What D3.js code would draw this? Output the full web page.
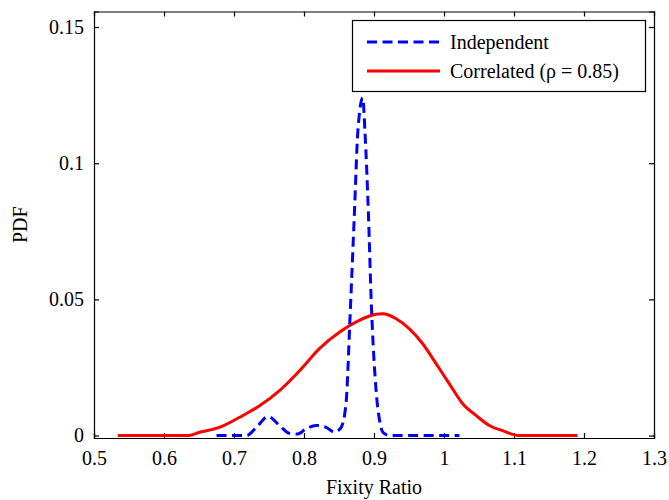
<!DOCTYPE html>
<html>
<head>
<meta charset="utf-8">
<script src="https://cdn.jsdelivr.net/npm/d3@7"></script>
<style>
  body { margin: 0; background: #fff; }
  text { font-family: "Liberation Serif", "Times New Roman", serif; }
</style>
</head>
<body>
<div id="chart"></div>
<script>
// values
const xTicks = [0.5, 0.6, 0.7, 0.8, 0.9, 1, 1.1, 1.2, 1.3]
const yTicks = [0, 0.05, 0.1, 0.15]

const indepX = [0.675, 0.70, 0.718, 0.732, 0.7486, 0.765, 0.7795, 0.791, 0.803, 0.8175, 0.8317, 0.8437, 0.853, 0.860, 0.866, 0.872, 0.877, 0.884, 0.887, 0.892, 0.896, 0.903, 0.908, 0.9126, 0.922, 0.95, 1.0, 1.022]
const indepY = [0, 0, 0, 0.003, 0.007, 0.0037, 0.0008, 0.0006, 0.0025, 0.0037, 0.003, 0.0012, 0.003, 0.0117, 0.0449, 0.0816, 0.112, 0.124, 0.112, 0.0816, 0.0496, 0.0165, 0.0055, 0.0012, 0, 0, 0, 0]

const corrX = [0.534, 0.60, 0.635, 0.651, 0.680, 0.708, 0.737, 0.765, 0.794, 0.822, 0.851, 0.879, 0.903, 0.9126, 0.9316, 0.9506, 0.9696, 0.9887, 1.0077, 1.0267, 1.0457, 1.0647, 1.0837, 1.107, 1.15, 1.1906]
const corrY = [0, 0, 0, 0.0012, 0.0031, 0.0067, 0.011, 0.0165, 0.0239, 0.0319, 0.038, 0.0423, 0.0445, 0.0447, 0.0429, 0.0392, 0.0337, 0.0264, 0.019, 0.0117, 0.0074, 0.0037, 0.0018, 0, 0, 0]

const w = 669
const h = 500
const m = { left: 94, right: 654, top: 11.5, bottom: 438 }
const serif = "'Liberation Serif', 'Times New Roman', serif"

const x = d3.scaleLinear().domain([0.5, 1.3]).range([m.left, m.right])
const y = d3.scaleLinear().domain([-0.0009, 0.1557]).range([m.bottom, m.top])

const svg = d3.select("#chart")
    .append("svg")
    .attr("width", w)
    .attr("height", h)
    .attr("font-family", serif)

// axes, ticks pointing inward on all four sides
const fmt = d => d3.format("~g")(d)

const gBottom = svg.append("g")
    .attr("transform", `translate(0,${m.bottom})`)
    .call(d3.axisBottom(x).tickValues(xTicks).tickSize(-5).tickPadding(9).tickFormat(fmt))
const gTop = svg.append("g")
    .attr("transform", `translate(0,${m.top})`)
    .call(d3.axisTop(x).tickValues(xTicks).tickSize(-5).tickFormat(""))
const gLeft = svg.append("g")
    .attr("transform", `translate(${m.left},0)`)
    .call(d3.axisLeft(y).tickValues(yTicks).tickSize(-5).tickPadding(10).tickFormat(fmt))
const gRight = svg.append("g")
    .attr("transform", `translate(${m.right},0)`)
    .call(d3.axisRight(y).tickValues(yTicks).tickSize(-5).tickFormat(""))

;[gBottom, gTop, gLeft, gRight].forEach(g => g.attr("font-family", serif).attr("font-size", 20))
svg.selectAll(".domain").attr("stroke", "#000").attr("stroke-width", 1.2)
svg.selectAll(".tick line").attr("stroke", "#000").attr("stroke-width", 1.2)
svg.selectAll(".tick text")
    .attr("fill", "#000")
    .style("font-size", "20px")
    .style("font-family", serif)
gBottom.selectAll(".tick text").attr("y", 13)

// curves
const line = d3.line()
    .x(d => x(d[0]))
    .y(d => y(d[1]))
    .curve(d3.curveMonotoneX)

svg.append("path")
    .datum(corrX.map((v, i) => [v, corrY[i]]))
    .attr("fill", "none")
    .attr("stroke", "#ff0000")
    .attr("stroke-width", 3)
    .attr("d", line)

svg.append("path")
    .datum(indepX.map((v, i) => [v, indepY[i]]))
    .attr("fill", "none")
    .attr("stroke", "#0000ff")
    .attr("stroke-width", 3)
    .attr("stroke-dasharray", "10,5.5")
    .attr("d", line)

// labels
svg.append("text")
    .attr("x", (m.left + m.right) / 2)
    .attr("y", 494)
    .attr("text-anchor", "middle")
    .style("font-size", "20px")
    .text("Fixity Ratio")

svg.append("text")
    .attr("transform", `translate(27,${(m.top + m.bottom) / 2}) rotate(-90)`)
    .attr("text-anchor", "middle")
    .style("font-size", "20px")
    .text("PDF")

// legend
const legend = svg.append("g")
legend.append("rect")
    .attr("x", 352.5).attr("y", 20.5)
    .attr("width", 293).attr("height", 71)
    .attr("fill", "#fff")
    .attr("stroke", "#000")
    .attr("stroke-width", 1.2)

const items = [
    { label: "Independent", color: "#0000ff", dash: "10,5.5", yy: 42 },
    { label: "Correlated (\u03c1 = 0.85)", color: "#ff0000", dash: null, yy: 71 }
]
items.forEach(it => {
    legend.append("line")
        .attr("x1", 367).attr("x2", 440)
        .attr("y1", it.yy).attr("y2", it.yy)
        .attr("stroke", it.color)
        .attr("stroke-width", 3)
        .attr("stroke-dasharray", it.dash)
    legend.append("text")
        .attr("x", 450)
        .attr("y", it.yy)
        .attr("dy", "0.35em")
        .style("font-size", "20px")
        .text(it.label)
})
</script>
</body>
</html>
